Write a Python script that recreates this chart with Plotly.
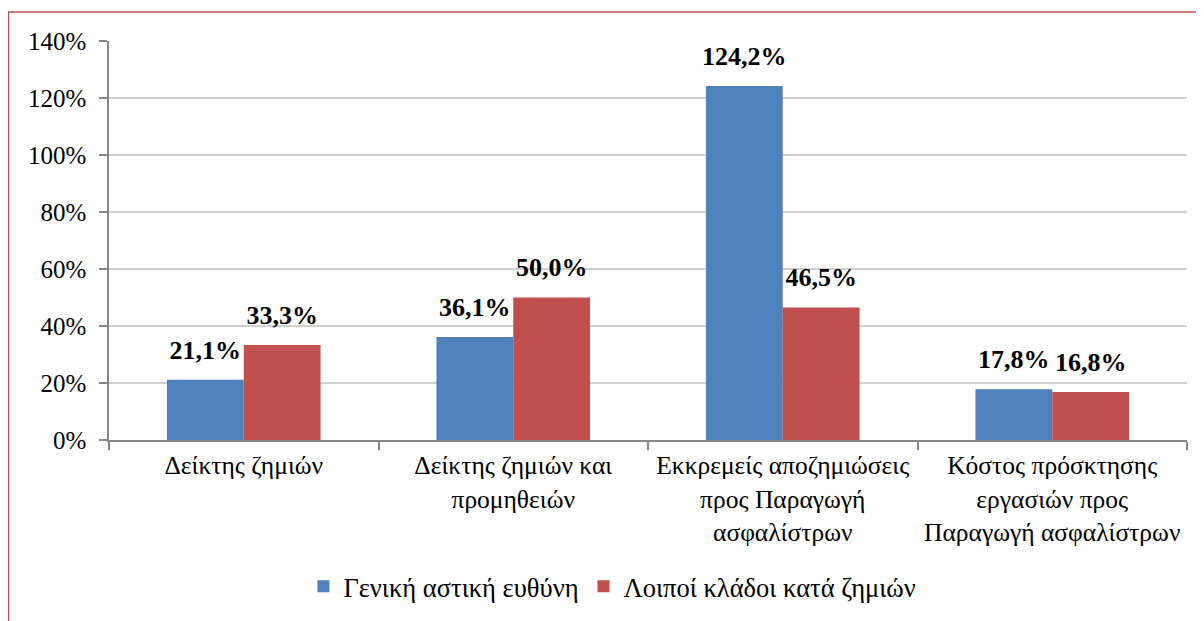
import plotly.graph_objects as go

categories = [
    "Δείκτης ζημιών",
    "Δείκτης ζημιών και<br>προμηθειών",
    "Εκκρεμείς αποζημιώσεις<br>προς Παραγωγή<br>ασφαλίστρων",
    "Κόστος πρόσκτησης<br>εργασιών προς<br>Παραγωγή ασφαλίστρων",
]
series_names = ["Γενική αστική ευθύνη", "Λοιποί κλάδοι κατά ζημιών"]
general_liability = [21.1, 36.1, 124.2, 17.8]
other_branches = [33.3, 50.0, 46.5, 16.8]
y_ticks = [0, 20, 40, 60, 80, 100, 120, 140]
y_tick_labels = [f"{t}%" for t in y_ticks]

colors = ["#4f81bd", "#c0504d"]
FONT = "Liberation Serif, DejaVu Serif, serif"

def fmt(v):
    return f"{v:.1f}%".replace(".", ",")

fig = go.Figure()
for name, vals, col in zip(series_names, [general_liability, other_branches], colors):
    fig.add_trace(go.Bar(
        x=categories, y=vals, name=name, offsetgroup=name,
        marker=dict(color=col, line=dict(width=0)),
        hoverinfo="skip",
    ))
for name, vals in zip(series_names, [general_liability, other_branches]):
    fig.add_trace(go.Scatter(
        x=categories, y=vals, offsetgroup=name, mode="markers+text",
        marker=dict(size=22, opacity=0), showlegend=False, hoverinfo="skip",
        text=[fmt(v) for v in vals], textposition="top center",
        textfont=dict(family="Liberation Serif", size=26, color="black", weight="bold"),
        cliponaxis=False,
    ))

# page renders figure with an 8px body offset
fig.update_layout(
    width=1204, height=621,
    margin=dict(l=101, r=25, t=33, b=189, autoexpand=False),
    paper_bgcolor="white", plot_bgcolor="white",
    barmode="group", bargap=0.43, bargroupgap=0,
    scattermode="group", scattergap=0.43,
    font=dict(family=FONT, size=24, color="black"),
    legend=dict(orientation="h", x=0.467, xanchor="center", y=-0.367, yanchor="middle",
                font=dict(family=FONT, size=26.5, color="black"), itemwidth=30, tracegroupgap=0),
    showlegend=True,
)
fig.update_yaxes(
    range=[0, 140], tickmode="array", tickvals=y_ticks, ticktext=y_tick_labels,
    showgrid=True, gridcolor="#d0d0d0", gridwidth=1.5,
    showline=True, linecolor="#868686", linewidth=1.5,
    ticks="outside", ticklen=8, tickcolor="#868686", tickwidth=1.5, ticklabelstandoff=8,
    tickfont=dict(family="Liberation Serif", size=25, color="black"), zeroline=False, automargin=False,
)
fig.update_xaxes(
    showline=True, linecolor="#868686", linewidth=1.5,
    ticks="outside", tickson="boundaries", ticklen=8, tickcolor="#868686", tickwidth=1.5,
    ticklabelstandoff=2, tickangle=0,
    tickfont=dict(family=FONT, size=25.5, color="black"), automargin=False,
)
fig.add_shape(type="rect", xref="paper", yref="paper",
              x0=(8.5 - 109) / 1078, x1=1.3, y0=-1.0, y1=(440 - 12) / 399,
              line=dict(color="#c0504d", width=1.5), fillcolor="rgba(0,0,0,0)", layer="above")

fig.write_html("out.html")
